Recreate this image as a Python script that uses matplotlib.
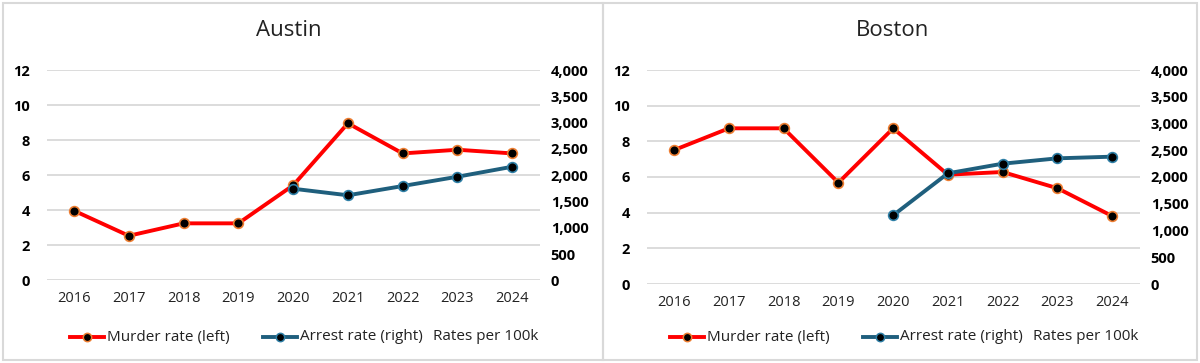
import matplotlib
matplotlib.use("Agg")
import matplotlib.pyplot as plt
from matplotlib.patches import Rectangle
from matplotlib.lines import Line2D
from matplotlib.ticker import FuncFormatter

years = ["2016", "2017", "2018", "2019", "2020", "2021", "2022", "2023", "2024"]
austin_murder = [3.97, 2.54, 3.25, 3.25, 5.42, 8.96, 7.24, 7.45, 7.24]
austin_arrest = [None, None, None, None, 1742, 1617, 1793, 1970, 2160]
boston_murder = [7.51, 8.73, 8.73, 5.68, 8.73, 6.13, 6.28, 5.37, 3.81]
boston_arrest = [None, None, None, None, 1284, 2069, 2249, 2349, 2380]
left_ticks = [0, 2, 4, 6, 8, 10, 12]
right_ticks = [0, 500, 1000, 1500, 2000, 2500, 3000, 3500, 4000]

RED = "#FF0000"
ORANGE = "#ED7D31"
BLUE = "#1F5F7D"
BLUE_EDGE = "#2E7FA6"
GRID = "#D9D9D9"
FONT = "Open Sans"

W, H = 1200, 363
fig = plt.figure(figsize=(12, 3.63), dpi=100)
fig.patch.set_facecolor("white")

# panel borders
for x0, x1 in [(2.5, 603), (603, 1197.5)]:
    fig.add_artist(Rectangle((x0 / W, 3 / H), (x1 - x0) / W, (H - 6) / H,
                             transform=fig.transFigure, fill=False,
                             edgecolor="#D9D9D9", linewidth=1.5))

panels = [
    ("Austin", austin_murder, austin_arrest, 46.7, 539.6, 280.3, 70, 289, 0),
    ("Boston", boston_murder, boston_arrest, 646.7, 1139.6, 284, 70, 893, 600),
]

for title, murder, arrest, xl, xr, yb, yt, tx, off in panels:
    ax = fig.add_axes([xl / W, 1 - yb / H, (xr - xl) / W, (yb - yt) / H])
    ax2 = ax.twinx()
    x = list(range(len(years)))
    ax.set_xlim(-0.5, len(years) - 0.5)
    ax.set_ylim(0, 12)
    ax2.set_ylim(0, 4000)
    ax.set_yticks(left_ticks)
    ax2.set_yticks(right_ticks)
    ax2.yaxis.set_major_formatter(FuncFormatter(lambda v, p: f"{int(v):,}"))
    ax.grid(axis="y", color=GRID, linewidth=1.3)
    ax.set_axisbelow(True)
    for a in (ax, ax2):
        for s in a.spines.values():
            s.set_visible(False)
        a.tick_params(length=0)
    ax.set_xticks(x)
    ax.set_xticklabels(years, fontsize=10.5, color="#222222", fontfamily=FONT)
    ax.tick_params(axis="x", pad=8)
    for lab in ax.get_yticklabels():
        lab.set_fontfamily(FONT); lab.set_fontweight("bold"); lab.set_fontsize(10.5)
    ax.tick_params(axis="y", pad=12)
    for lab in ax2.get_yticklabels():
        lab.set_fontfamily(FONT); lab.set_fontweight("bold"); lab.set_fontsize(10.5)
    ax2.tick_params(axis="y", pad=8)

    ax.plot(x, murder, color=RED, linewidth=2.8, marker="o", markersize=7,
            markerfacecolor="black", markeredgecolor=ORANGE, markeredgewidth=1.2,
            zorder=3, solid_joinstyle="round")
    xa = [i for i, v in zip(x, arrest) if v is not None]
    va = [v for v in arrest if v is not None]
    ax2.plot(xa, va, color=BLUE, linewidth=2.8, marker="o", markersize=7,
             markerfacecolor="black", markeredgecolor=BLUE_EDGE, markeredgewidth=1.2,
             zorder=3, solid_joinstyle="round")

    fig.text(tx / W, 1 - 30 / H, title, ha="center", va="center",
             fontsize=16, fontfamily=FONT, color="#222222")

    # legend
    ly = 1 - 337 / H
    for (lx0, lx1, tx0, label, lc, me) in [
        (70, 104, 107, "Murder rate (left)", RED, ORANGE),
        (263, 297, 300, "Arrest rate (right)", BLUE, BLUE_EDGE),
    ]:
        fig.add_artist(Line2D([(off + lx0) / W, (off + lx1) / W], [ly, ly],
                              transform=fig.transFigure, color=lc, linewidth=2.8))
        fig.add_artist(Line2D([(off + (lx0 + lx1) / 2) / W], [ly],
                              transform=fig.transFigure, marker="o", markersize=6,
                              markerfacecolor="black", markeredgecolor=me,
                              markeredgewidth=1.1, linestyle="none"))
        fig.text((off + tx0) / W, ly, label, ha="left", va="center",
                 fontsize=11, fontfamily=FONT, color="#222222")
    fig.text((off + 433) / W, ly, "Rates per 100k", ha="left", va="center",
             fontsize=11, fontfamily=FONT, color="#222222")

fig.savefig("out.png", dpi=100, facecolor="white")
